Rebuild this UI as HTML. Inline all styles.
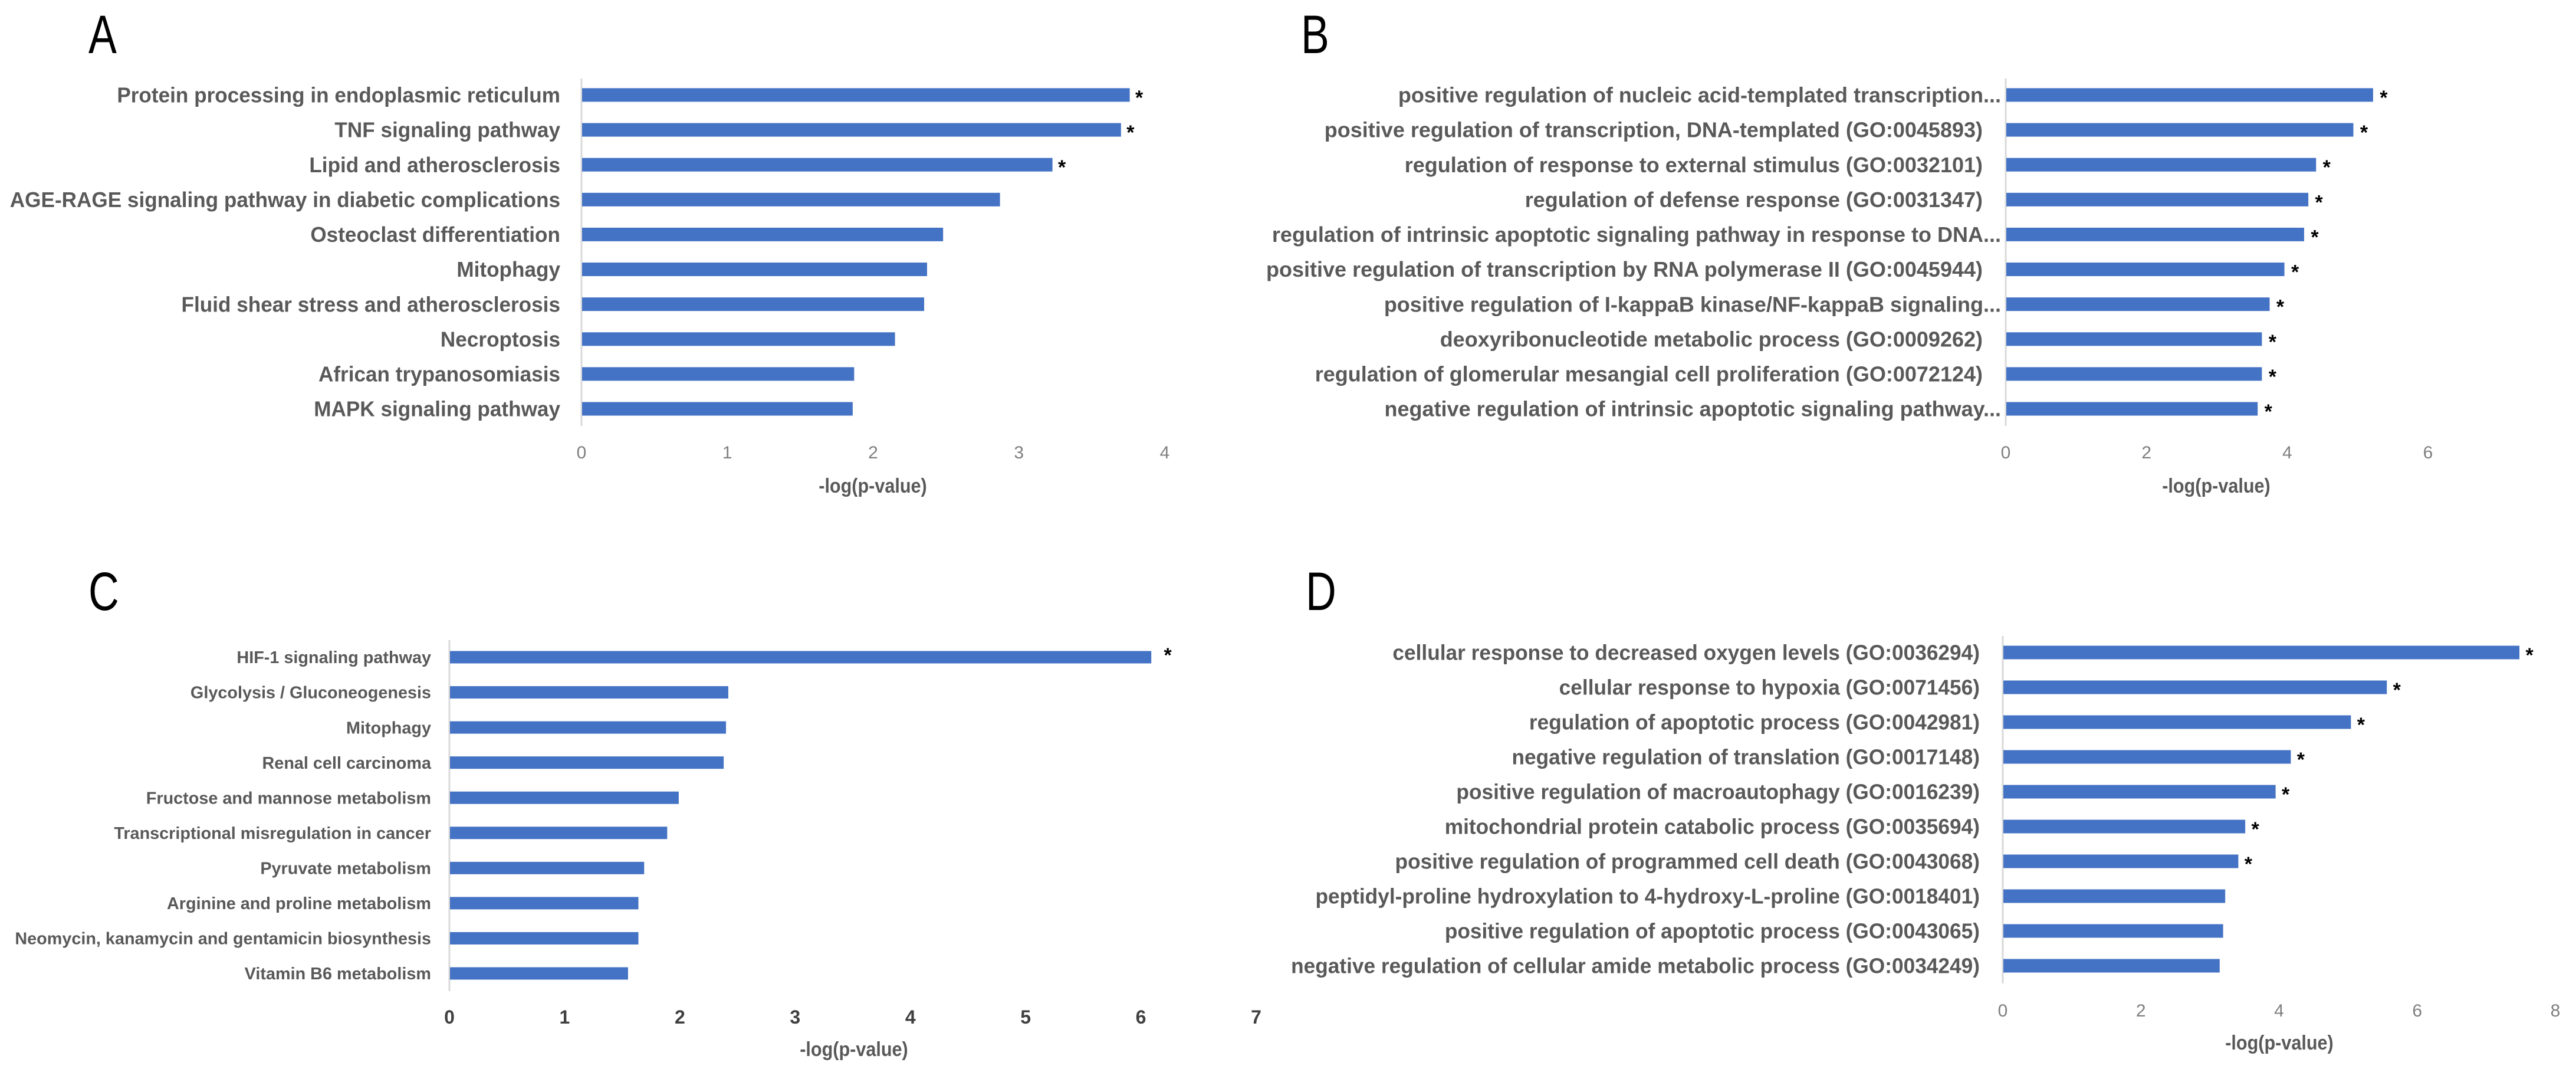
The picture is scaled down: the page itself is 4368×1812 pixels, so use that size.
<!DOCTYPE html>
<html><head><meta charset="utf-8"><style>
html,body{margin:0;padding:0;background:#fff;}
svg{display:block;}
text{font-family:"Liberation Sans",sans-serif;}
</style></head><body>
<svg id="fig" width="4368" height="1812" viewBox="0 0 4368 1812" xmlns="http://www.w3.org/2000/svg">
<text x="0" y="0" transform="translate(150,90) scale(0.78,1)" font-size="92" fill="#000">A</text>
<text x="0" y="0" transform="translate(2206,90) scale(0.78,1)" font-size="92" fill="#000">B</text>
<text x="0" y="0" transform="translate(150,1034) scale(0.78,1)" font-size="92" fill="#000">C</text>
<text x="0" y="0" transform="translate(2214,1034) scale(0.78,1)" font-size="92" fill="#000">D</text>
</svg>
<script>
const catsA=["Protein processing in endoplasmic reticulum","TNF signaling pathway","Lipid and atherosclerosis","AGE-RAGE signaling pathway in diabetic complications","Osteoclast differentiation","Mitophagy","Fluid shear stress and atherosclerosis","Necroptosis","African trypanosomiasis","MAPK signaling pathway"];
const valsA=[3.76,3.70,3.23,2.87,2.48,2.37,2.35,2.15,1.87,1.86];
const starA=[1,1,1,0,0,0,0,0,0,0];
const ticksA=[0,1,2,3,4];
const catsB=["positive regulation of nucleic acid-templated transcription...","positive regulation of transcription, DNA-templated (GO:0045893)","regulation of response to external stimulus (GO:0032101)","regulation of defense response (GO:0031347)","regulation of intrinsic apoptotic signaling pathway in response to DNA...","positive regulation of transcription by RNA polymerase II (GO:0045944)","positive regulation of I-kappaB kinase/NF-kappaB signaling...","deoxyribonucleotide metabolic process (GO:0009262)","regulation of glomerular mesangial cell proliferation (GO:0072124)","negative regulation of intrinsic apoptotic signaling pathway..."];
const valsB=[5.22,4.94,4.41,4.30,4.24,3.96,3.75,3.64,3.64,3.58];
const starB=[1,1,1,1,1,1,1,1,1,1];
const ticksB=[0,2,4,6];
const catsC=["HIF-1 signaling pathway","Glycolysis / Gluconeogenesis","Mitophagy","Renal cell carcinoma","Fructose and mannose metabolism","Transcriptional misregulation in cancer","Pyruvate metabolism","Arginine and proline metabolism","Neomycin, kanamycin and gentamicin biosynthesis","Vitamin B6 metabolism"];
const valsC=[6.09,2.42,2.40,2.38,1.99,1.89,1.69,1.64,1.64,1.55];
const starC=[1,0,0,0,0,0,0,0,0,0];
const ticksC=[0,1,2,3,4,5,6,7];
const catsD=["cellular response to decreased oxygen levels (GO:0036294)","cellular response to hypoxia (GO:0071456)","regulation of apoptotic process (GO:0042981)","negative regulation of translation (GO:0017148)","positive regulation of macroautophagy (GO:0016239)","mitochondrial protein catabolic process (GO:0035694)","positive regulation of programmed cell death (GO:0043068)","peptidyl-proline hydroxylation to 4-hydroxy-L-proline (GO:0018401)","positive regulation of apoptotic process (GO:0043065)","negative regulation of cellular amide metabolic process (GO:0034249)"];
const valsD=[7.48,5.56,5.04,4.17,3.95,3.51,3.41,3.22,3.19,3.14];
const starD=[1,1,1,1,1,1,1,0,0,0];
const ticksD=[0,2,4,6,8];

const NS="http://www.w3.org/2000/svg";
const svg=document.getElementById('fig');
function mk(tag,attrs,parent){const e=document.createElementNS(NS,tag);for(const k in attrs)e.setAttribute(k,attrs[k]);(parent||svg).appendChild(e);return e;}

function panel(id,cats,vals,stars,ticks,cfg){
  const g=mk('g',{});
  
  
  const tmax=ticks[ticks.length-1];
  const xs=v=>cfg.x0+(v/tmax)*(cfg.x1-cfg.x0);
  const ys=i=>cfg.yFirst+i*(cfg.yLast-cfg.yFirst)/(cats.length-1);
  const ax=mk('line',{x1:cfg.x0,x2:cfg.x0,y1:cfg.axTop,y2:cfg.axBot,stroke:'#d9d9d9','stroke-width':3},g);
  
  
  const labels=[];
  cats.forEach((c,i)=>{
    const y=ys(i);
    const b=mk('rect',{x:cfg.x0+1,y:y-cfg.bh/2,width:xs(vals[i])-cfg.x0-1,height:cfg.bh,fill:'#4472C4'},g);
    
    
    const rx=c.endsWith('...')?cfg.lblRightE:cfg.lblRight;
    const t=mk('text',{x:0,y:0,'text-anchor':'end','font-size':cfg.fs,'font-weight':'bold',fill:'#595959'},g);
    t.textContent=c;
    
    
    labels.push([t,rx,y+cfg.fs*0.35]);
    if(stars[i]){
      const s=mk('text',{x:xs(vals[i])+cfg.starOff,y:y+cfg.starDy,'font-size':34,'font-weight':'bold',fill:'#000','text-anchor':'middle'},g);
      s.textContent='*';
      
      
    }
  });
  const ref=labels[cfg.refIdx][0];
  const w=ref.getComputedTextLength();
  const sc=w>0?Math.min(1,cfg.refW/w):0.88;
  labels.forEach(([t,rx,y])=>{t.setAttribute('transform','translate('+rx+','+y+') scale('+sc+',1)');});
  ticks.forEach(v=>{
    const t=mk('text',{x:xs(v),y:cfg.tickY,'text-anchor':'middle','font-size':cfg.tfs,fill:cfg.tcol,'font-weight':cfg.tw},g);
    t.textContent=v;
    
    
  });
  const at=mk('text',{x:cfg.titleX,y:cfg.titleY,'text-anchor':'middle','font-size':34,'font-weight':'bold',fill:'#595959',transform:'translate('+cfg.titleX+' 0) scale(0.9,1) translate('+(-cfg.titleX)+' 0)'},g);
  at.textContent='-log(p-value)';
  
  
}
panel('a',catsA,valsA,starA,ticksA,{x0:986,x1:1975,yFirst:161,yLast:693,axTop:133,axBot:722,bh:23,fs:36,lblRight:950,lblRightE:950,refIdx:0,refW:752,starOff:16,starDy:16,tickY:777,tfs:30,tcol:'#7f7f7f',tw:'normal',titleX:1480,titleY:835});
panel('b',catsB,valsB,starB,ticksB,{x0:3401,x1:4117,yFirst:161,yLast:693,axTop:133,axBot:722,bh:23,fs:36,lblRight:3362,lblRightE:3393,refIdx:1,refW:1120,starOff:18,starDy:16,tickY:777,tfs:30,tcol:'#7f7f7f',tw:'normal',titleX:3758,titleY:835});
panel('c',catsC,valsC,starC,ticksC,{x0:762,x1:2130,yFirst:1114,yLast:1650,axTop:1085,axBot:1680,bh:21,fs:29,lblRight:731,lblRightE:731,refIdx:8,refW:706,starOff:28,starDy:8,tickY:1735,tfs:32,tcol:'#404040',tw:'bold',titleX:1448,titleY:1790});
panel('d',catsD,valsD,starD,ticksD,{x0:3396,x1:4333,yFirst:1106,yLast:1637,axTop:1078,axBot:1667,bh:23,fs:36,lblRight:3357,lblRightE:3357,refIdx:0,refW:996,starOff:17,starDy:16,tickY:1723,tfs:30,tcol:'#7f7f7f',tw:'normal',titleX:3865,titleY:1779});
</script>
</body></html>
